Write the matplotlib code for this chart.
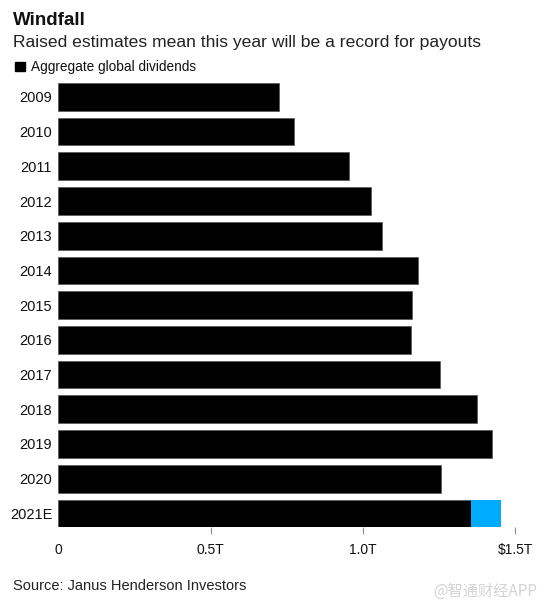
import matplotlib.pyplot as plt
from matplotlib.patches import Rectangle

plt.rcParams['font.family'] = ['Liberation Sans', 'DejaVu Sans']

# aggregate global dividends, trillions of US$
years = ['2009', '2010', '2011', '2012', '2013', '2014', '2015',
         '2016', '2017', '2018', '2019', '2020', '2021E']
dividends = [0.726, 0.775, 0.954, 1.028, 1.064, 1.180, 1.163,
             1.159, 1.253, 1.376, 1.426, 1.256, 1.357]
# raised part of the 2021 estimate (blue segment)
raised_2021 = 0.097

xticks = [0, 0.5, 1.0, 1.5]
xticklabels = ['0', '0.5T', '1.0T', '\\$1.5T']

W, H = 549, 609
fig = plt.figure(figsize=(W / 100, H / 100), dpi=100)
ax = fig.add_axes([58.5 / W, 1 - 527.3 / H, (515 - 58.5) / W, (527.3 - 83) / H])

pos = list(range(len(years)))
ax.barh(pos, dividends, height=0.8, color='black', edgecolor='#555555', linewidth=0.5)
ax.barh(pos[-1], raised_2021, left=dividends[-1], height=0.8, color='#00aaff', linewidth=0)

ax.set_xlim(0, 1.5)
ax.set_ylim(12.4, -0.4)
for s in ax.spines.values():
    s.set_visible(False)

ax.set_yticks(pos)
ax.set_yticklabels(years)
ax.set_xticks(xticks)
ax.set_xticklabels(xticklabels)
ax.tick_params(axis='y', length=0, pad=4.5, labelsize=10.5, labelcolor='#111111')
ax.tick_params(axis='x', length=5, width=0.8, color='#888888', pad=6.5,
               labelsize=10, labelcolor='#111111')
ax.xaxis.get_major_ticks()[0].tick1line.set_visible(False)

# header
fig.text(13 / W, 1 - 25 / H, 'Windfall', fontsize=13.5, fontweight='bold',
         va='baseline', ha='left', color='#111111')
fig.text(13 / W, 1 - 47 / H, 'Raised estimates mean this year will be a record for payouts',
         fontsize=12.6, va='baseline', ha='left', color='#222222')
fig.patches.append(Rectangle((14.7 / W, 1 - 71 / H), 9.8 / W, 9 / H,
                             transform=fig.transFigure, color='black'))
fig.text(31 / W, 1 - 71 / H, 'Aggregate global dividends', fontsize=9.8,
         va='baseline', ha='left', color='#111111')

# footer
fig.text(13 / W, 1 - 590 / H, 'Source: Janus Henderson Investors', fontsize=10.5,
         va='baseline', ha='left', color='#222222')
fig.text(537 / W, 1 - 591 / H, '@智通财经APP', fontsize=11, va='center', ha='right',
         color='#d4d4d4', family=['Noto Sans CJK SC', 'DejaVu Sans'])

fig.savefig('out.png', dpi=100)
